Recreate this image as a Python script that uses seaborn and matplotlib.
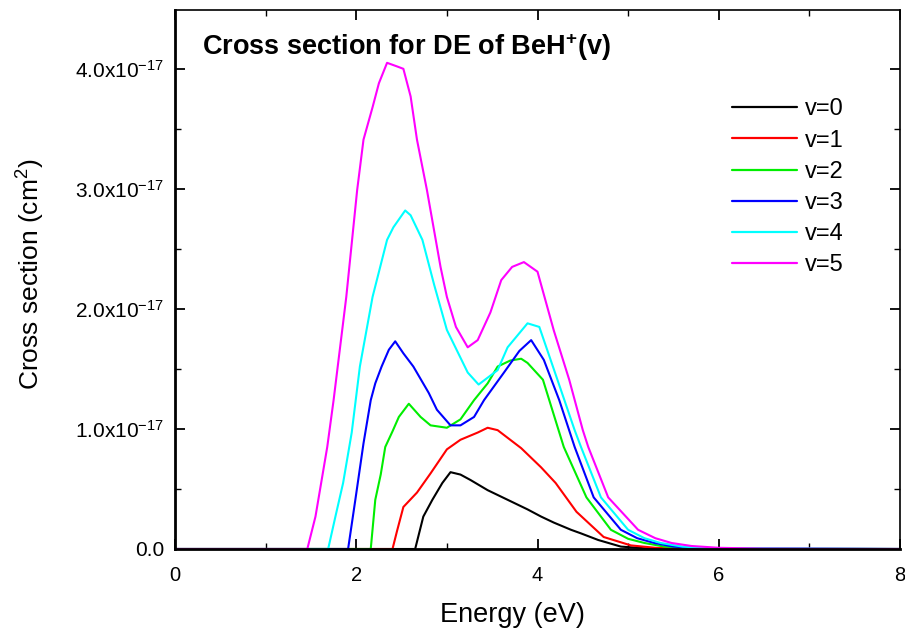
import matplotlib
matplotlib.use("Agg")
import matplotlib.pyplot as plt
from matplotlib.ticker import MultipleLocator, FuncFormatter
import numpy as np
import pandas as pd
import seaborn as sns

# Dissociative-excitation cross sections of BeH+(v); sigma in units of 1e-17 cm^2
E0 = [0, 2.65, 2.74, 2.84, 2.95, 3.04, 3.15, 3.26, 3.45, 3.67, 3.89, 4.04, 4.18, 4.37, 4.48, 4.67, 4.92, 5.2, 5.6, 8]
S0 = [0, 0, 0.27, 0.41, 0.55, 0.64, 0.62, 0.575, 0.49, 0.41, 0.33, 0.27, 0.22, 0.16, 0.13, 0.075, 0.02, 0.005, 0, 0]

E1 = [0, 2.40, 2.45, 2.52, 2.67, 2.82, 3.0, 3.15, 3.34, 3.45, 3.56, 3.82, 4.04, 4.2, 4.43, 4.73, 5.03, 5.3, 5.6, 8]
S1 = [0, 0, 0.15, 0.35, 0.47, 0.63, 0.83, 0.91, 0.97, 1.01, 0.99, 0.84, 0.68, 0.55, 0.31, 0.10, 0.03, 0.01, 0, 0]

E2 = [0, 2.16, 2.21, 2.27, 2.32, 2.40, 2.47, 2.58, 2.71, 2.82, 3.0, 3.15, 3.30, 3.45, 3.56, 3.70, 3.82, 3.89, 4.06, 4.29, 4.54, 4.81, 5.0, 5.18, 5.4, 5.7, 8]
S2 = [0, 0, 0.41, 0.62, 0.85, 0.98, 1.10, 1.21, 1.10, 1.03, 1.01, 1.08, 1.24, 1.38, 1.52, 1.57, 1.585, 1.55, 1.41, 0.85, 0.43, 0.16, 0.085, 0.05, 0.02, 0.005, 0]

E3 = [0, 1.91, 1.99, 2.08, 2.16, 2.21, 2.28, 2.36, 2.43, 2.52, 2.63, 2.80, 2.89, 3.04, 3.15, 3.30, 3.41, 3.63, 3.80, 3.93, 4.07, 4.24, 4.41, 4.62, 4.92, 5.1, 5.29, 5.5, 5.8, 8]
S3 = [0, 0, 0.41, 0.88, 1.24, 1.38, 1.52, 1.66, 1.73, 1.63, 1.52, 1.30, 1.16, 1.03, 1.03, 1.10, 1.24, 1.47, 1.65, 1.74, 1.575, 1.24, 0.85, 0.43, 0.16, 0.09, 0.05, 0.02, 0.005, 0]

E4 = [0, 1.69, 1.77, 1.855, 1.95, 2.04, 2.18, 2.34, 2.41, 2.54, 2.60, 2.73, 2.86, 3.0, 3.23, 3.35, 3.56, 3.67, 3.89, 4.02, 4.22, 4.41, 4.48, 4.70, 5.0, 5.18, 5.36, 5.6, 5.9, 8]
S4 = [0, 0, 0.27, 0.55, 0.97, 1.52, 2.1, 2.575, 2.68, 2.82, 2.78, 2.575, 2.2, 1.825, 1.47, 1.37, 1.49, 1.68, 1.88, 1.85, 1.41, 0.99, 0.85, 0.43, 0.16, 0.09, 0.05, 0.02, 0.006, 0]

E5 = [0, 1.46, 1.55, 1.68, 1.75, 1.89, 2.01, 2.08, 2.18, 2.25, 2.34, 2.45, 2.52, 2.60, 2.67, 2.78, 2.93, 3.0, 3.10, 3.23, 3.34, 3.48, 3.6, 3.72, 3.85, 4.0, 4.18, 4.35, 4.5, 4.56, 4.78, 5.11, 5.3, 5.48, 5.7, 6.0, 6.5, 8]
S5 = [0, 0, 0.27, 0.85, 1.24, 2.1, 2.99, 3.41, 3.68, 3.88, 4.05, 4.02, 4.0, 3.77, 3.41, 2.99, 2.35, 2.1, 1.85, 1.68, 1.74, 1.97, 2.24, 2.35, 2.39, 2.31, 1.82, 1.41, 0.99, 0.85, 0.43, 0.16, 0.09, 0.05, 0.025, 0.01, 0.003, 0]

levels = ["v=0", "v=1", "v=2", "v=3", "v=4", "v=5"]
energies = [E0, E1, E2, E3, E4, E5]
sigmas = [S0, S1, S2, S3, S4, S5]
colors = ["#000000", "#ff0000", "#00ee00", "#0000ff", "#00ffff", "#ff00ff"]
UNIT = 1e-17

frames = []
for lab, e, s in zip(levels, energies, sigmas):
    frames.append(pd.DataFrame({"Energy": e, "Sigma": np.array(s) * UNIT, "v": lab}))
df = pd.concat(frames, ignore_index=True)

sns.set_style("ticks")
plt.rcParams["font.family"] = ["Liberation Sans", "DejaVu Sans"]
plt.rcParams["mathtext.fontset"] = "custom"
plt.rcParams["mathtext.rm"] = "Liberation Sans"
plt.rcParams["mathtext.it"] = "Liberation Sans:italic"
plt.rcParams["mathtext.bf"] = "Liberation Sans:bold"
for key in ["text.color", "axes.labelcolor", "xtick.color", "ytick.color", "axes.edgecolor"]:
    plt.rcParams[key] = "black"

fig = plt.figure(figsize=(9.05, 6.32), dpi=100)
ax = fig.add_axes([175 / 905, 1 - 549 / 632, 725 / 905, 539 / 632])

sns.lineplot(data=df, x="Energy", y="Sigma", hue="v", hue_order=levels,
             palette=dict(zip(levels, colors)), sort=False, estimator=None,
             linewidth=1.5, ax=ax)

ax.set_xlim(0, 8)
ax.set_ylim(0, 4.49e-17)
ax.xaxis.set_major_locator(MultipleLocator(2))
ax.xaxis.set_minor_locator(MultipleLocator(1))
ax.yaxis.set_major_locator(MultipleLocator(1e-17))
ax.yaxis.set_minor_locator(MultipleLocator(0.5e-17))


def fmt_y(val, pos):
    m = val / UNIT
    if abs(m) < 1e-9:
        return "0.0"
    return r"$%.1f\mathrm{x}10^{-17}$" % m


ax.yaxis.set_major_formatter(FuncFormatter(fmt_y))
ax.xaxis.set_major_formatter(FuncFormatter(lambda v, p: "%d" % v))

ax.tick_params(which="both", direction="in", top=True, right=True)
ax.tick_params(which="major", length=7, width=1.3, labelsize=14.5)
ax.tick_params(axis="y", which="major", labelsize=15)
ax.tick_params(which="minor", length=4, width=1.0)
ax.tick_params(axis="y", pad=8)
ax.tick_params(axis="x", pad=12)

for side in ["left", "bottom"]:
    ax.spines[side].set_linewidth(2.0)
for side in ["top", "right"]:
    ax.spines[side].set_linewidth(1.2)

ax.set_xlabel("Energy (eV)", fontsize=19.5)
ax.xaxis.set_label_coords(0.466, -0.099)
ax.set_ylabel(r"Cross section (cm$^{2}$)", fontsize=19)
ax.yaxis.set_label_coords(-0.176, 0.51)

ax.text(0.037, 0.9165, r"Cross section for DE of BeH$^{\mathbf{+}}$(v)", transform=ax.transAxes,
        fontsize=19.5, fontweight="bold", ha="left", va="baseline")

leg = ax.legend(loc="upper left", bbox_to_anchor=(0.768, 0.836), frameon=False,
                fontsize=17, handlelength=2.78, handletextpad=0.3, labelspacing=0.39,
                borderaxespad=0, borderpad=0)
for line in leg.get_lines():
    line.set_linewidth(1.6)

fig.savefig("out.png", dpi=100)
